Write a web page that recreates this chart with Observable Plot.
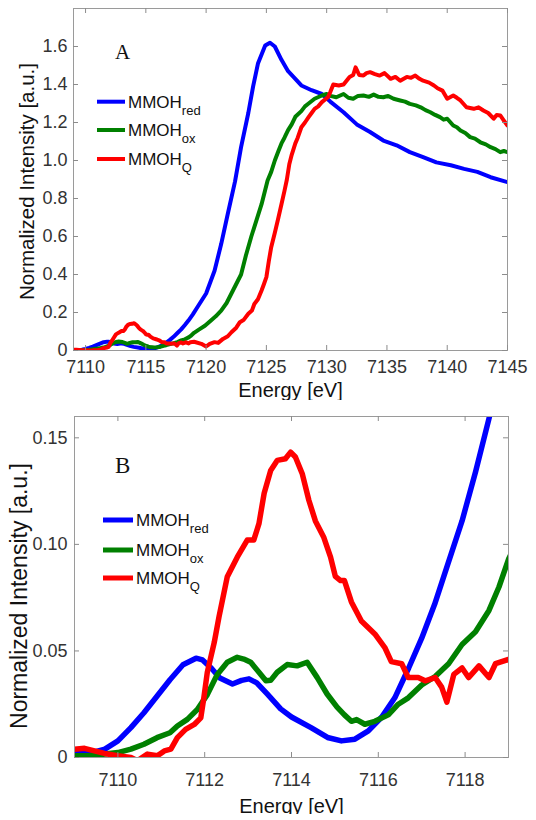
<!DOCTYPE html>
<html>
<head>
<meta charset="utf-8">
<script src="https://cdn.jsdelivr.net/npm/d3@7"></script>
<script src="https://cdn.jsdelivr.net/npm/@observablehq/plot@0.6"></script>
<style>
  html, body { margin: 0; padding: 0; background: #fff; }
  #wrap { position: relative; width: 536px; height: 820px; overflow: hidden; background: #fff; }
  #pa { position: absolute; left: 0; top: 0; width: 536px; height: 400px; }
  #pb { position: absolute; left: 0; top: 400px; width: 536px; height: 414px; overflow: hidden; }
  #legend { position: absolute; left: 0; top: 0; }
</style>
</head>
<body>
<div id="wrap">
  <div id="pa"></div>
  <div id="pb"></div>
  <svg id="legend" width="536" height="820" xmlns="http://www.w3.org/2000/svg"></svg>
</div>
<script>
// ---- data: [energy (eV), normalized intensity] ----
const mmohRed = [
  [7109,0.0019],[7109.4,0.0023],[7109.7,0.0039],[7110.0,0.0078],[7110.3,0.014],[7110.6,0.021],
  [7110.9,0.0287],[7111.2,0.0365],[7111.5,0.0435],[7111.8,0.0466],[7111.95,0.0458],[7112.15,0.042],
  [7112.35,0.0373],[7112.64,0.0345],[7112.85,0.0362],[7113.02,0.0369],[7113.2,0.035],[7113.44,0.0298],
  [7113.75,0.0228],[7114.0,0.019],[7114.45,0.014],[7114.83,0.0094],[7115.15,0.0078],[7115.46,0.0086],
  [7115.77,0.0125],[7116.08,0.019],[7116.38,0.028],[7116.7,0.042],[7117.0,0.056],[7117.3,0.072],
  [7117.6,0.0906],[7117.93,0.111],[7118.24,0.134],[7118.55,0.159],[7118.9,0.19],[7119.3,0.23],
  [7120.0,0.30],[7120.7,0.42],[7121.25,0.56],[7121.8,0.72],[7122.4,0.89],[7122.9,1.07],[7123.5,1.25],
  [7123.9,1.39],[7124.3,1.51],[7124.9,1.605],[7125.3,1.62],[7125.7,1.60],[7126.25,1.53],[7126.8,1.47],
  [7127.4,1.43],[7127.9,1.395],[7128.75,1.37],[7129.6,1.35],[7130.3,1.31],[7131.4,1.254],[7132.5,1.19],
  [7133.6,1.15],[7134.7,1.105],[7135.8,1.08],[7136.9,1.044],[7138.0,1.018],[7139.1,0.99],[7140.3,0.975],
  [7141.4,0.956],[7142.5,0.94],[7143.6,0.912],[7145.0,0.886]
];
const mmohOx = [
  [7109,0.0008],[7109.4,0.0008],[7109.7,0.0016],[7110.0,0.0023],[7110.3,0.0039],[7110.6,0.0062],
  [7110.9,0.0093],[7111.2,0.0116],[7111.37,0.0148],[7111.6,0.0179],[7111.83,0.0225],[7112.06,0.0295],
  [7112.29,0.039],[7112.52,0.0447],[7112.75,0.047],[7112.9,0.0462],[7113.06,0.0447],[7113.25,0.040],
  [7113.41,0.036],[7113.52,0.0362],[7113.67,0.040],[7113.9,0.0436],[7114.13,0.043],[7114.36,0.0447],
  [7114.59,0.0376],[7114.82,0.0298],[7115.05,0.0236],[7115.22,0.020],[7115.38,0.017],[7115.5,0.0178],
  [7115.69,0.0156],[7115.92,0.017],[7116.23,0.020],[7116.46,0.025],[7116.69,0.028],[7117.0,0.034],
  [7117.31,0.038],[7117.62,0.044],[7117.93,0.053],[7118.24,0.059],[7118.55,0.069],[7118.78,0.080],
  [7119.0,0.093],[7119.4,0.11],[7119.9,0.13],[7120.4,0.158],[7120.8,0.18],[7121.25,0.21],[7121.7,0.25],
  [7122.1,0.30],[7122.5,0.35],[7122.9,0.40],[7123.3,0.50],[7123.75,0.60],[7124.2,0.69],[7124.6,0.77],
  [7125.1,0.895],[7125.4,0.94],[7125.7,1.0],[7126.0,1.05],[7126.25,1.09],[7126.5,1.12],[7126.8,1.16],
  [7127.1,1.19],[7127.4,1.23],[7127.9,1.26],[7128.2,1.285],[7128.5,1.30],[7129.0,1.325],[7129.6,1.342],
  [7130.0,1.35],[7130.3,1.34],[7130.8,1.333],[7131.4,1.35],[7131.8,1.33],[7132.2,1.325],[7132.6,1.34],
  [7133.05,1.342],[7133.5,1.335],[7133.9,1.347],[7134.3,1.335],[7134.7,1.333],[7135.1,1.34],[7135.55,1.325],
  [7136.1,1.316],[7136.5,1.31],[7136.9,1.298],[7137.4,1.29],[7137.8,1.28],[7138.2,1.265],[7138.6,1.254],
  [7139.0,1.24],[7139.4,1.228],[7139.7,1.215],[7140.0,1.22],[7140.5,1.184],[7140.8,1.175],[7141.1,1.158],
  [7141.5,1.145],[7141.9,1.123],[7142.3,1.115],[7142.75,1.096],[7143.2,1.085],[7143.6,1.07],[7144.0,1.06],
  [7144.4,1.044],[7144.7,1.05],[7145,1.044]
];
const mmohQ = [
  [7109,0.0039],[7109.23,0.0043],[7109.46,0.0031],[7109.69,0.0019],[7109.99,0.0008],[7110.3,0.0],
  [7110.45,-0.0015],[7110.68,0.0016],[7110.91,0.0008],[7111.07,0.0031],[7111.22,0.0039],[7111.37,0.0093],
  [7111.56,0.0132],[7111.76,0.0155],[7111.91,0.0186],[7111.98,0.028],[7112.06,0.040],[7112.22,0.054],
  [7112.33,0.066],[7112.52,0.0848],[7112.75,0.094],[7112.98,0.102],[7113.13,0.102],[7113.25,0.1097],
  [7113.37,0.124],[7113.52,0.1347],[7113.67,0.1394],[7113.86,0.1402],[7113.98,0.1433],[7114.09,0.141],
  [7114.25,0.133],[7114.4,0.1207],[7114.55,0.111],[7114.74,0.1035],[7114.9,0.094],[7115.01,0.085],
  [7115.13,0.083],[7115.22,0.083],[7115.38,0.073],[7115.61,0.064],[7115.92,0.058],[7116.15,0.0516],
  [7116.3,0.045],[7116.54,0.044],[7116.69,0.0375],[7116.92,0.0375],[7117.08,0.036],[7117.31,0.0375],
  [7117.46,0.033],[7117.58,0.026],[7117.74,0.039],[7117.93,0.042],[7118.08,0.0375],[7118.32,0.043],
  [7118.55,0.0375],[7118.7,0.044],[7119.0,0.046],[7119.6,0.035],[7120.0,0.021],[7120.3,0.035],
  [7120.7,0.044],[7121.0,0.04],[7121.4,0.061],[7121.8,0.075],[7122.1,0.096],[7122.5,0.12],[7122.8,0.149],
  [7123.1,0.16],[7123.5,0.193],[7123.8,0.21],[7124.0,0.245],[7124.3,0.27],[7124.6,0.316],[7124.8,0.35],
  [7125.0,0.386],[7125.2,0.47],[7125.4,0.544],[7125.7,0.62],[7126.0,0.70],[7126.25,0.77],[7126.5,0.84],
  [7126.7,0.90],[7126.9,0.98],[7127.1,1.03],[7127.4,1.09],[7127.6,1.12],[7127.9,1.175],[7128.2,1.20],
  [7128.5,1.228],[7128.75,1.25],[7129.0,1.272],[7129.3,1.285],[7129.6,1.307],[7130.1,1.333],[7130.3,1.36],
  [7130.55,1.40],[7131.0,1.395],[7131.4,1.40],[7131.9,1.44],[7132.2,1.45],[7132.4,1.49],[7132.7,1.45],
  [7133.05,1.447],[7133.3,1.46],[7133.6,1.465],[7134.0,1.455],[7134.4,1.447],[7134.8,1.46],[7135.3,1.43],
  [7135.7,1.44],[7136.1,1.42],[7136.65,1.44],[7137.0,1.435],[7137.35,1.447],[7137.7,1.43],[7138.0,1.42],
  [7138.5,1.41],[7138.9,1.395],[7139.2,1.38],[7139.6,1.368],[7140.0,1.325],[7140.5,1.342],[7140.8,1.33],
  [7141.1,1.316],[7141.6,1.28],[7142.2,1.272],[7142.6,1.28],[7143.0,1.263],[7143.4,1.25],[7143.85,1.22],
  [7144.1,1.24],[7144.4,1.237],[7144.7,1.21],[7145,1.184]
];

const seriesNames = ["MMOHred", "MMOHox", "MMOHQ"];
const seriesSubs = ["red", "ox", "Q"];
const seriesColors = ["#0000ff", "#008000", "#ff0000"];
const seriesData = [mmohRed, mmohOx, mmohQ];

// panel A axes
const xDomainA = [7109, 7145];
const yDomainA = [0, 1.8];
const xTicksA = [7110, 7115, 7120, 7125, 7130, 7135, 7140, 7145];
const yTicksA = [0, 0.2, 0.4, 0.6, 0.8, 1.0, 1.2, 1.4, 1.6];
// panel B axes
const xDomainB = [7109, 7119];
const yDomainB = [0, 0.16];
const xTicksB = [7110, 7112, 7114, 7116, 7118];
const yTicksB = [0, 0.05, 0.10, 0.15];

const xLabel = "Energy [eV]";
const yLabel = "Normalized Intensity [a.u.]";

function panel(o) {
  const pw = o.width - o.ml - o.mr;
  const ph = o.height - o.mt - o.mb;
  const tickColor = "#8c8c8c";
  return Plot.plot({
    width: o.width, height: o.height,
    marginLeft: o.ml, marginRight: o.mr, marginTop: o.mt, marginBottom: o.mb,
    x: {domain: o.xDomain}, y: {domain: o.yDomain},
    style: {fontFamily: "'Liberation Sans', Arial, Helvetica, sans-serif", background: "#fff"},
    marks: [
      ...seriesData.map((d, i) => Plot.line(d, {
        x: p => p[0], y: p => p[1], stroke: seriesColors[i], strokeWidth: o.sw,
        strokeLinejoin: "round", strokeLinecap: "round", clip: true
      })),
      Plot.frame({stroke: "#9a9a9a", strokeWidth: 1}),
      Plot.tickX(o.xTicks, {x: d => d, stroke: tickColor, insetTop: ph - 5}),
      Plot.tickX(o.xTicks, {x: d => d, stroke: tickColor, insetBottom: ph - 5}),
      Plot.tickY(o.yTicks, {y: d => d, stroke: tickColor, insetRight: pw - 5}),
      Plot.tickY(o.yTicks, {y: d => d, stroke: tickColor, insetLeft: pw - 5}),
      Plot.axisX(o.xTicks, {tickSize: 0, tickPadding: o.xPad, tickFormat: d => String(d), fontSize: 18, fill: "#333", label: null}),
      Plot.axisY(o.yTicks, {tickSize: 0, tickPadding: o.yPad, tickFormat: o.yFmt, fontSize: 18, fill: "#333", label: null}),
      Plot.text([xLabel], {text: d => d, frameAnchor: "bottom", textAnchor: "middle", dy: o.xLabelDy, lineAnchor: "bottom", fontSize: 20, fill: "#111"}),
      Plot.text([yLabel], {text: d => d, frameAnchor: "left", textAnchor: "middle", rotate: -90, dx: o.yLabelDx, dy: o.yLabelDy, lineAnchor: "top", fontSize: o.yLabelSize, fill: "#111"})
    ]
  });
}

document.getElementById("pa").append(panel({
  width: 536, height: 400, ml: 73, mr: 29, mt: 8, mb: 50,
  xDomain: xDomainA, yDomain: yDomainA, xTicks: xTicksA, yTicks: yTicksA,
  yFmt: d => d === 0 ? "0" : d.toFixed(1), sw: 4,
  xPad: 10, yPad: 6, xLabelDy: 46, yLabelDx: -54, yLabelDy: 2, yLabelSize: 20.5
}));

document.getElementById("pb").append(panel({
  width: 536, height: 414, ml: 74, mr: 28, mt: 16, mb: 57,
  xDomain: xDomainB, yDomain: yDomainB, xTicks: xTicksB, yTicks: yTicksB,
  yFmt: d => d === 0 ? "0" : d.toFixed(2), sw: 5.5,
  xPad: 16, yPad: 7, xLabelDy: 55, yLabelDx: -64, yLabelDy: 9, yLabelSize: 23
}));

// ---- legends and panel letters (overlay) ----
const NS = "http://www.w3.org/2000/svg";
const lg = document.getElementById("legend");
function el(tag, attrs, text) {
  const e = document.createElementNS(NS, tag);
  for (const k in attrs) e.setAttribute(k, attrs[k]);
  if (text != null) e.textContent = text;
  lg.append(e);
  return e;
}
function legend(x0, x1, ys, sw, tx) {
  ys.forEach((y, i) => {
    el("line", {x1: x0, x2: x1, y1: y, y2: y, stroke: seriesColors[i], "stroke-width": sw});
    const t = el("text", {x: tx, y: y + 6, "font-family": "'Liberation Sans', Arial, sans-serif", "font-size": 17, fill: "#111"});
    const a = document.createElementNS(NS, "tspan"); a.textContent = "MMOH"; t.append(a);
    const b = document.createElementNS(NS, "tspan"); b.textContent = seriesSubs[i];
    b.setAttribute("dy", 7); b.setAttribute("font-size", 13); t.append(b);
  });
}
legend(97, 125, [101.7, 130, 159], 4, 128);
legend(103, 133, [520, 550, 578], 5, 136);
el("text", {x: 115, y: 58.5, "font-family": "'Liberation Serif', 'Times New Roman', serif", "font-size": 21, fill: "#111"}, "A");
el("text", {x: 115, y: 473, "font-family": "'Liberation Serif', 'Times New Roman', serif", "font-size": 23, fill: "#111"}, "B");
</script>
</body>
</html>
